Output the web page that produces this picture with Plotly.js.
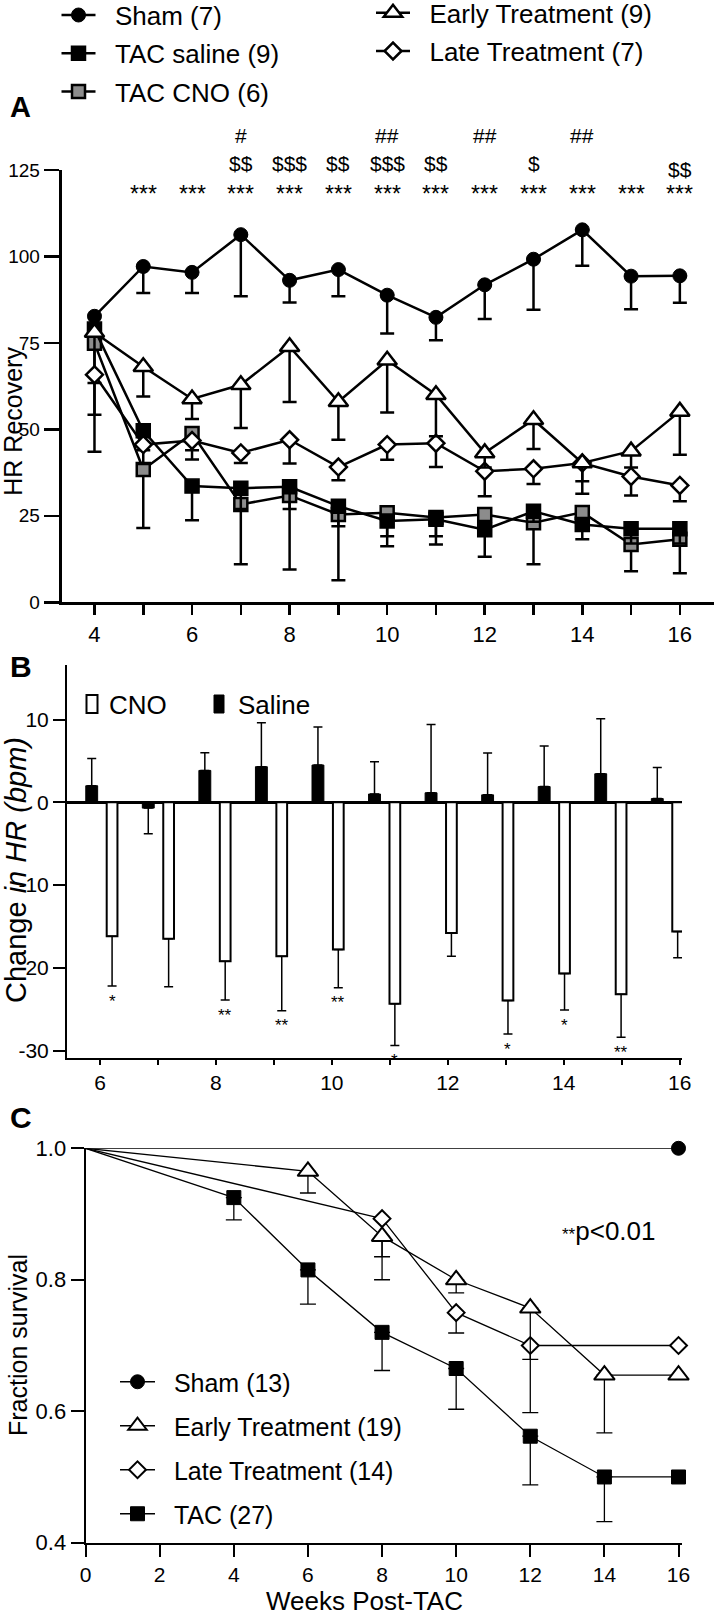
<!DOCTYPE html>
<html><head><meta charset="utf-8">
<script src="https://cdn.plot.ly/plotly-3.0.1.min.js"></script>
<style>html,body{margin:0;padding:0;background:#fff}#chart{width:714px;height:1618px}</style>
</head><body><div id="chart"></div>
<script>
// ---------------- Panel A data (HR Recovery) ----------------
const weeksA = [4,5,6,7,8,9,10,11,12,13,14,15,16];
const weekLabelsA = ['4','','6','','8','','10','','12','','14','','16'];
const yTicksA = [0,25,50,75,100,125];
const sham      = [82.7, 97.1, 95.4, 106.3, 93.1, 96.2, 88.8, 82.4, 91.8, 99.2, 107.7, 94.3, 94.4];
const shamSem   = [null, 7.7, 6.0, 17.8, 6.4, 7.7, 11.1, 6.6, 9.9, 14.6, 10.4, 9.6, 7.8];
const tacSaline = [79.0, 49.6, 33.6, 33.0, 33.4, 27.8, 23.5, 24.0, 21.0, 26.3, 22.5, 21.3, 21.3];
const salineSem = [15.6, 5.6, 9.9, 6.0, 6.4, 5.8, 4.4, 4.9, 7.8, 3.0, 4.3, 4.3, 4.3];
const tacCno    = [74.9, 38.4, 48.8, 28.3, 30.9, 25.4, 25.9, 24.5, 25.4, 23.0, 26.0, 16.7, 18.2];
const cnoSemA   = [20.7, 16.9, 7.5, 17.3, 21.4, 19.0, 9.7, 7.8, 3.0, 12.0, 3.0, 7.7, 9.8];
const early     = [78.0, 68.1, 58.8, 62.9, 73.9, 58.0, 70.0, 60.0, 43.2, 52.8, 40.3, 43.7, 55.2];
const earlySem  = [null, 8.6, 5.8, 12.5, 16.0, 11.0, 15.1, 12.0, 4.2, 8.5, 5.3, 4.7, 12.5];
const late      = [65.8, 45.6, 46.8, 43.2, 47.0, 39.1, 45.6, 46.0, 37.9, 38.6, 40.3, 36.4, 33.8];
const lateSem   = [22.3, 5.6, 2.8, 2.9, 6.9, 3.8, 4.4, 6.9, 7.2, 4.4, 8.9, 5.5, 4.6];
const starWeeksA = [5,6,7,8,9,10,11,12,13,14,15,16];
const dollarWeeks = [7,8,9,10,11,13,16];
const dollarText  = ['$$','$$$','$$','$$$','$$','$','$$'];
const hashWeeks = [7,10,12,14];
const hashText  = ['#','##','##','##'];

// ---------------- Panel B data (Change in HR) ----------------
const weeksB = [6,7,8,9,10,11,12,13,14,15,16];
const weekLabelsB = ['6','','8','','10','','12','','14','','16'];
const yTicksB = [-30,-20,-10,0,10];
const yTickTextB = ['-30','-20','-10','0','10'];
const salineB   = [2.0, -0.7, 3.85, 4.3, 4.5, 1.0, 1.15, 0.9, 1.9, 3.45, 0.45];
const salineBSem= [3.3, 3.1, 2.15, 5.3, 4.6, 3.9, 8.25, 5.05, 4.9, 6.65, 3.75];
const cnoB      = [-16.2, -16.5, -19.2, -18.6, -17.8, -24.35, -15.8, -23.95, -20.7, -23.2, -15.6];
const cnoBSem   = [6.0, 5.8, 4.7, 6.6, 4.6, 5.05, 2.8, 4.05, 4.4, 5.2, 3.2];
const starsB    = ['*','','**','**','**','*','','*','*','**',''];

// ---------------- Panel C data (Survival) ----------------
const weeksC = [0,2,4,6,8,10,12,14,16];
const yTicksC = [0.4,0.6,0.8,1.0];
const yTickTextC = ['0.4','0.6','0.8','1.0'];
const shamCx = [0,16],  shamCy = [1,1];
const earlyCx = [0,6,8,10,12,14,16];
const earlyCy = [1, 0.965, 0.866, 0.80, 0.757, 0.655, 0.655];
const earlyCSem = [null, 0.033, 0.031, 0.02, 0.078, 0.088, null];
const lateCx = [0,8,10,12,16];
const lateCy = [1, 0.893, 0.75, 0.70, 0.70];
const lateCSem = [null, 0.093, 0.031, 0.102, null];
const tacCx = [0,4,6,8,10,12,14,16];
const tacCy = [1, 0.925, 0.815, 0.72, 0.665, 0.562, 0.50, 0.50];
const tacCSem = [null, 0.034, 0.052, 0.058, 0.062, 0.074, 0.068, null];

// ---------------- helpers ----------------
const W = 714, H = 1618;
const px = v => v / W;
const py = v => 1 - v / H;
const FONT = 'Liberation Sans, Arial, Helvetica, sans-serif';
const SP = '\u00a0\u00a0';

function lowerErr(sem, th, w) {
  return {type:'data', symmetric:false, visible:true,
    array: sem.map(s => s == null ? NaN : 0),
    arrayminus: sem.map(s => s == null ? NaN : s),
    color:'#000', thickness: th, width: w};
}

const traces = [];
function traceA(name, y, sem, marker, legend, rank) {
  traces.push({type:'scatter', mode:'lines+markers', x: weeksA, y: y, name: SP + name,
    legend: legend, legendrank: rank, legendgroup: name, xaxis:'x', yaxis:'y',
    line:{color:'#000', width:2.5}, marker: marker, error_y: lowerErr(sem, 2.5, 7),
    cliponaxis:false, hoverinfo:'skip'});
}
traceA('TAC CNO (6)', tacCno, cnoSemA, {symbol:'square', size:13, color:'#8c8c8c', line:{color:'#000', width:2.5}}, 'legend', 3);
traceA('TAC saline (9)', tacSaline, salineSem, {symbol:'square', size:14, color:'#000', line:{color:'#000', width:1.5}}, 'legend', 2);
traceA('Late Treatment (7)', late, lateSem, {symbol:'diamond', size:13, color:'#fff', line:{color:'#000', width:2.5}}, 'legend2', 5);
traceA('Early Treatment (9)', early, earlySem, {symbol:'triangle-up', size:17, color:'#fff', line:{color:'#000', width:2.5}}, 'legend2', 4);
traceA('Sham (7)', sham, shamSem, {symbol:'circle', size:14, color:'#000', line:{color:'#000', width:1}}, 'legend', 1);

// Panel B: tick axis x2 (a no-mark trace so the subplot exists) and bar axis x4 overlaying it
traces.push({type:'scatter', mode:'none', x: weeksB, y: weeksB.map(() => 0), xaxis:'x2', yaxis:'y2',
  showlegend:false, hoverinfo:'skip'});
const cnoOffset = 0.36;
traces.push({type:'bar', x: weeksB, y: salineB, xaxis:'x4', yaxis:'y2', width:0.21, showlegend:false,
  marker:{color:'#000', line:{color:'#000', width:1}},
  error_y:{type:'data', symmetric:false, array: salineB.map((v,i)=> v>=0 ? salineBSem[i] : 0),
    arrayminus: salineB.map((v,i)=> v<0 ? salineBSem[i] : 0), color:'#000', thickness:1.5, width:4.5},
  hoverinfo:'skip'});
traces.push({type:'bar', x: weeksB.map(w => w + cnoOffset), y: cnoB, xaxis:'x4', yaxis:'y2', width:0.19, showlegend:false,
  marker:{color:'#fff', line:{color:'#000', width:2}},
  error_y:{type:'data', symmetric:false, array: cnoB.map(()=>0), arrayminus: cnoBSem, color:'#000', thickness:1.5, width:4.5},
  hoverinfo:'skip'});

// Panel C survival
function traceC(name, xs, ys, sem, marker, rank) {
  traces.push({type:'scatter', mode:'lines', x: xs.slice(0,2), y: ys.slice(0,2), xaxis:'x3', yaxis:'y3',
    line:{color:'#000', width:1.3}, showlegend:false, cliponaxis:false, hoverinfo:'skip'});
  traces.push({type:'scatter', mode:'lines+markers', x: xs.slice(1), y: ys.slice(1), name: SP + name,
    legend:'legend3', legendrank: rank, legendgroup: 'c' + name, xaxis:'x3', yaxis:'y3',
    line:{color:'#000', width:1.3}, marker: marker,
    error_y: sem ? lowerErr(sem.slice(1), 1.3, 8) : undefined, cliponaxis:false, hoverinfo:'skip'});
}
traceC('TAC (27)', tacCx, tacCy, tacCSem, {symbol:'square', size:14, color:'#000', line:{color:'#000', width:1}}, 4);
traceC('Late Treatment (14)', lateCx, lateCy, lateCSem, {symbol:'diamond', size:13, color:'#fff', line:{color:'#000', width:2}}, 3);
traceC('Early Treatment (19)', earlyCx, earlyCy, earlyCSem, {symbol:'triangle-up', size:18, color:'#fff', line:{color:'#000', width:2}}, 2);
traceC('Sham (13)', shamCx, shamCy, null, {symbol:'circle', size:14, color:'#000', line:{color:'#000', width:1}}, 1);

// ---------------- annotations ----------------
const ann = [];
function txt(o) { ann.push(Object.assign({showarrow:false, font:{family:FONT, color:'#000', size:20}}, o)); }
txt({text:'<b>A</b>', xref:'paper', yref:'paper', x:px(20.5), y:py(107.5), xanchor:'center', yanchor:'middle', font:{family:FONT, size:29, color:'#000'}});
txt({text:'<b>B</b>', xref:'paper', yref:'paper', x:px(21), y:py(666), xanchor:'center', yanchor:'middle', font:{family:FONT, size:30, color:'#000'}});
txt({text:'<b>C</b>', xref:'paper', yref:'paper', x:px(20.5), y:py(1117), xanchor:'center', yanchor:'middle', font:{family:FONT, size:30, color:'#000'}});
txt({text:'HR Recovery', xref:'paper', yref:'paper', x:px(13), y:py(421.7), textangle:-90, xanchor:'center', yanchor:'middle', font:{family:FONT, size:25, color:'#000'}});
txt({text:'Change <i>in HR (bpm)</i>', xref:'paper', yref:'paper', x:px(16), y:py(870), textangle:-90, xanchor:'center', yanchor:'middle', font:{family:FONT, size:29, color:'#000'}});
txt({text:'Fraction survival', xref:'paper', yref:'paper', x:px(18), y:py(1345), textangle:-90, xanchor:'center', yanchor:'middle', font:{family:FONT, size:25, color:'#000'}});
txt({text:'Weeks Post-TAC', xref:'paper', yref:'paper', x:px(364), y:py(1617.5), xanchor:'center', yanchor:'bottom', font:{family:FONT, size:26, color:'#000'}});
starWeeksA.forEach(w => txt({text:'***', xref:'x', yref:'paper', x:w, y:py(189), yshift:-5, xanchor:'center', yanchor:'middle', font:{family:FONT, size:23, color:'#000'}}));
dollarWeeks.forEach((w,i) => txt({text:dollarText[i], xref:'x', yref:'paper', x:w, y:py(w === 16 ? 170 : 163.3), xanchor:'center', yanchor:'middle', font:{family:FONT, size:21, color:'#000'}}));
hashWeeks.forEach((w,i) => txt({text:hashText[i], xref:'x', yref:'paper', x:w, y:py(135), xanchor:'center', yanchor:'middle', font:{family:FONT, size:21, color:'#000'}}));
weeksB.forEach((w,i) => { if (starsB[i]) txt({text:starsB[i], xref:'x4', yref:'y2', x:w + cnoOffset, y:cnoB[i] - cnoBSem[i], yshift:-15, xanchor:'center', yanchor:'middle', font:{family:FONT, size:17, color:'#000'}}); });
txt({text:'CNO', xref:'paper', yref:'paper', x:px(107), y:py(705), xanchor:'left', yanchor:'middle', font:{family:FONT, size:26, color:'#000'}});
txt({text:'Saline', xref:'paper', yref:'paper', x:px(236), y:py(705), xanchor:'left', yanchor:'middle', font:{family:FONT, size:26, color:'#000'}});
txt({text:'<span style="font-size:17px">**</span>p&lt;0.01', xref:'paper', yref:'paper', x:px(560), y:py(1231), xanchor:'left', yanchor:'middle', font:{family:FONT, size:26, color:'#000'}});

const shapes = [
  {type:'rect', xref:'paper', yref:'paper', x0:px(86.5), x1:px(97.5), y0:py(713), y1:py(695), line:{color:'#000', width:2}, fillcolor:'#fff'},
  {type:'rect', xref:'paper', yref:'paper', x0:px(214), x1:px(224), y0:py(713), y1:py(695), line:{color:'#000', width:1}, fillcolor:'#000'}
];

const axBase = {showgrid:false, zeroline:false, showline:true, linecolor:'#000', ticks:'outside', tickcolor:'#000', fixedrange:true, tickmode:'array', layer:'above traces'};
const domB = [px(67), px(682)];
const layout = {
  width: W, height: H,
  margin: {l:0, r:0, t:0, b:0, autoexpand:false},
  paper_bgcolor:'#fff', plot_bgcolor:'rgba(0,0,0,0)',
  font: {family: FONT, color:'#000', size:20},
  barmode:'overlay',
  showlegend: true,
  xaxis: Object.assign({}, axBase, {domain:[px(61.7), 1], range:[3.328, 16.70], anchor:'y',
    tickvals: weeksA, ticktext: weekLabelsA, ticklen:10, tickwidth:2.5, linewidth:3, tickfont:{size:22}}),
  yaxis: Object.assign({}, axBase, {domain:[py(602.3), py(170)], range:[0,125], anchor:'x',
    tickvals: yTicksA, ticktext: yTicksA.map(String), ticklen:15, tickwidth:2.5, linewidth:3,
    tickfont:{size:19}}),
  xaxis2: Object.assign({}, axBase, {domain:domB, range:[5.431, 16.04], anchor:'y2',
    tickvals: weeksB, ticktext: weekLabelsB, ticklen:5, tickwidth:2, linewidth:2, tickfont:{size:21}}),
  xaxis4: {domain:domB, overlaying:'x2', anchor:'y2', range:[5.563, 16.437], visible:false, fixedrange:true},
  yaxis2: Object.assign({}, axBase, {domain:[py(1058), py(665)], range:[-30.9, 16.59], anchor:'x2',
    tickvals: yTicksB, ticktext: yTickTextB, ticklen:12, tickwidth:2, linewidth:2, tickfont:{size:21},
    zeroline:true, zerolinecolor:'#000', zerolinewidth:3}),
  xaxis3: Object.assign({}, axBase, {domain:[px(85.6), px(681.7)], range:[0, 16.086], anchor:'y3',
    tickvals: weeksC, ticktext: weeksC.map(String), ticklen:12, tickwidth:2, linewidth:2, tickfont:{size:21}}),
  yaxis3: Object.assign({}, axBase, {domain:[py(1542.7), py(1148.3)], range:[0.4, 1.0], anchor:'x3',
    tickvals: yTicksC, ticktext: yTickTextC, ticklen:13, tickwidth:2, linewidth:2, tickfont:{size:22}}),
  legend:  {x:px(56.5), y:py(-8.4), xanchor:'left', yanchor:'top', bgcolor:'rgba(0,0,0,0)', borderwidth:0,
    font:{family:FONT, size:26, color:'#000'}, itemwidth:34, tracegroupgap:1.5, traceorder:'grouped'},
  legend2: {x:px(371), y:py(-10.7), xanchor:'left', yanchor:'top', bgcolor:'rgba(0,0,0,0)', borderwidth:0,
    font:{family:FONT, size:26, color:'#000'}, itemwidth:34, tracegroupgap:1.5, traceorder:'grouped'},
  legend3: {x:px(115), y:py(1359), xanchor:'left', yanchor:'top', bgcolor:'rgba(0,0,0,0)', borderwidth:0,
    font:{family:FONT, size:25, color:'#000'}, itemwidth:35, tracegroupgap:8.5, traceorder:'grouped'},
  annotations: ann,
  shapes: shapes
};

Plotly.newPlot('chart', traces, layout, {staticPlot:true, displayModeBar:false});
</script>
</body></html>
